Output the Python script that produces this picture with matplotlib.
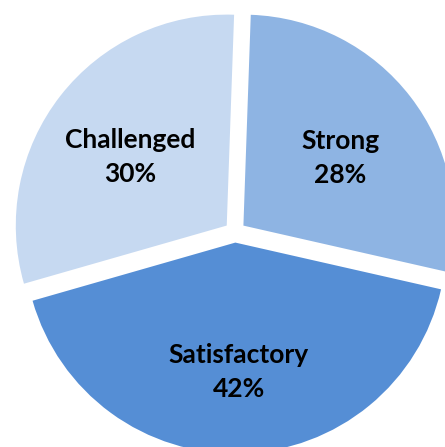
import matplotlib
matplotlib.use("Agg")
import matplotlib.pyplot as plt
import matplotlib.transforms as mtransforms

# slice data, clockwise from 12 o'clock
CATEGORIES = ["Strong", "Satisfactory", "Challenged"]
SHARES = [28, 42, 30]
COLORS = ["#8EB4E3", "#558ED5", "#C6D9F1"]

fig = plt.figure(figsize=(4.45, 4.47), dpi=100)
ax = fig.add_axes([0, 0, 1, 1])

wedges, texts, autotexts = ax.pie(
    SHARES,
    colors=COLORS,
    startangle=88,
    counterclock=False,
    explode=[0.05] * len(SHARES),
    autopct="%1.0f%%",
    pctdistance=0.58,
    wedgeprops=dict(linewidth=0),
)

# labels sit a little lower than the pie's default anchor
shift = mtransforms.ScaledTranslation(0, -0.07, fig.dpi_scale_trans)
for label, t in zip(CATEGORIES, autotexts):
    t.set_text(f"{label}\n{t.get_text()}")
    t.set_fontfamily(["Lato", "DejaVu Sans"])
    t.set_fontweight("bold")
    t.set_fontsize(19)
    t.set_linespacing(1.5)
    t.set_color("black")
    t.set_transform(t.get_transform() + shift)

# pie is cropped by the frame, as in the original
ax.set_xlim(-1.114, 0.995)
ax.set_ylim(-1.019, 1.100)
ax.set_aspect("equal")
ax.axis("off")

fig.savefig("out.png", dpi=100)
